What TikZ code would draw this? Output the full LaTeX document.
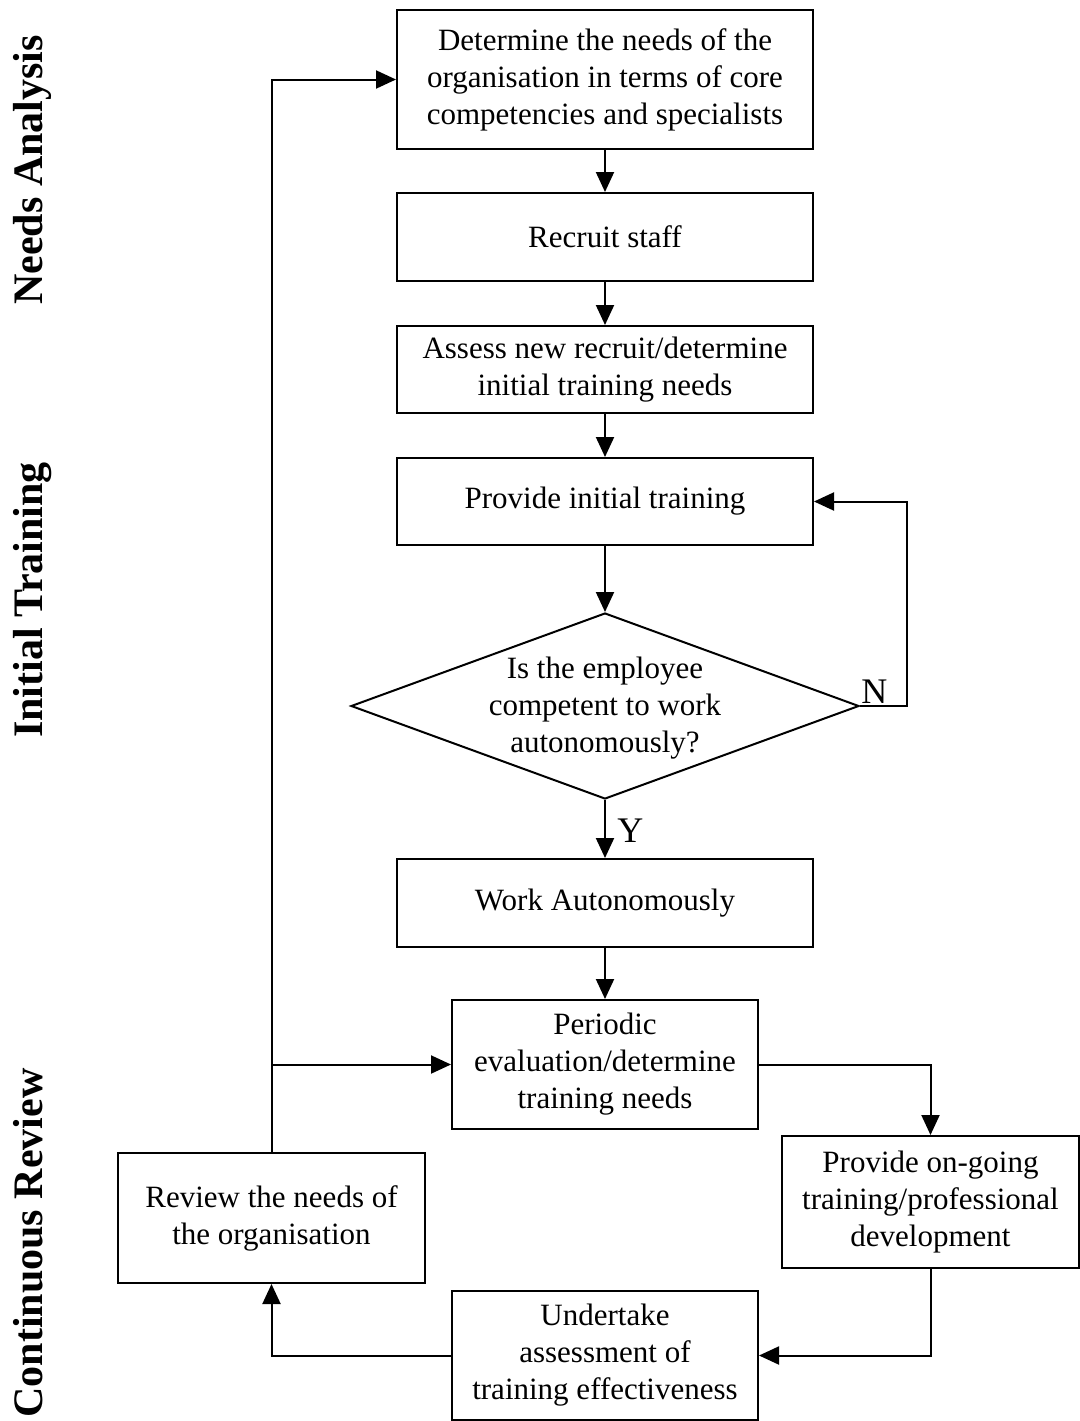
\documentclass[tikz,border=0pt]{standalone}
\usepackage{fontspec}
\setmainfont{Liberation Serif}
\usetikzlibrary{arrows.meta,shapes.geometric}
\begin{document}
\begin{tikzpicture}[x=0.75pt,y=-0.75pt,
  box/.style={draw, line width=1.5pt, inner sep=0pt, align=center,
    font=\fontsize{23.25}{27.75}\selectfont},
  conn/.style={line width=1.5pt, -{Triangle[length=15pt,width=13.5pt]}},
  txt/.style={inner sep=0pt, align=center, font=\fontsize{23.25}{27.75}\selectfont},
  side/.style={rotate=90, anchor=base, inner sep=0pt,
    font=\fontsize{31.5}{36}\selectfont\bfseries},
  yn/.style={anchor=base west, inner sep=0pt, font=\fontsize{27}{30}\selectfont}]
\useasboundingbox (0,0) rectangle (1080,1421);

% side labels
\node[side] (sa) at (42,170) {Needs Analysis};
\node[side] (sb) at (42,600) {Initial Training};
\node[side] (sc) at (42,1243) {Continuous Review};

% boxes
\node[box, minimum width=312pt, minimum height=104.25pt] (b1) at (605,79.5)
  {Determine the needs of the\\organisation in terms of core\\competencies and specialists};
\node[box, minimum width=312pt, minimum height=66pt] (b2) at (605,237) {Recruit staff};
\node[box, minimum width=312pt, minimum height=65.25pt] (b3) at (605,369.5)
  {Assess new recruit/determine\\initial training needs};
\node[box, minimum width=312pt, minimum height=65.25pt] (b4) at (605,501.5)
  {Provide initial training};
\node[draw, diamond, line width=1.5pt, inner sep=0pt, minimum width=381pt,
  minimum height=139.5pt] (dia) at (605,706) {};
\node[txt] (diatext) at (605,708) {Is the employee\\competent to work\\autonomously?};
\node[box, minimum width=312pt, minimum height=66pt] (b5) at (605,903) {Work Autonomously};
\node[box, minimum width=229.5pt, minimum height=96.75pt] (b6) at (605,1064.5)
  {Periodic\\evaluation/determine\\training needs};
\node[box, minimum width=222.75pt, minimum height=99pt] (b7) at (930.5,1202)
  {Provide on-going\\training/professional\\development};
\node[box, minimum width=229.5pt, minimum height=96.75pt] (b8) at (605,1355.5)
  {Undertake\\assessment of\\training effectiveness};
\node[box, minimum width=230.25pt, minimum height=97.5pt] (b9) at (271.5,1218)
  {Review the needs of\\the organisation};

% labels Y / N
\node[yn] (nlab) at (861,703) {N};
\node[yn] (ylab) at (617,842) {Y};

% connectors
\draw[conn] (b1) -- (b2);
\draw[conn] (b2) -- (b3);
\draw[conn] (b3) -- (b4);
\draw[conn] (b4.south) -- (dia.north);
\draw[conn] (dia.south) -- (b5.north);
\coordinate (nloop) at (907,706);
\draw[conn] (dia.east) -- (nloop) |- (b4.east);
\draw[conn] (b5) -- (b6);
\draw[conn] (b6.east) -| (b7.north);
\draw[conn] (b7.south) |- (b8.east);
\draw[conn] (b8.west) -| (b9.south);
\draw[conn] (b9.north) |- (b1.west);
\coordinate (br) at (b9.north |- b6.west);
\draw[conn] (br) -- (b6.west);
\end{tikzpicture}
\end{document}
